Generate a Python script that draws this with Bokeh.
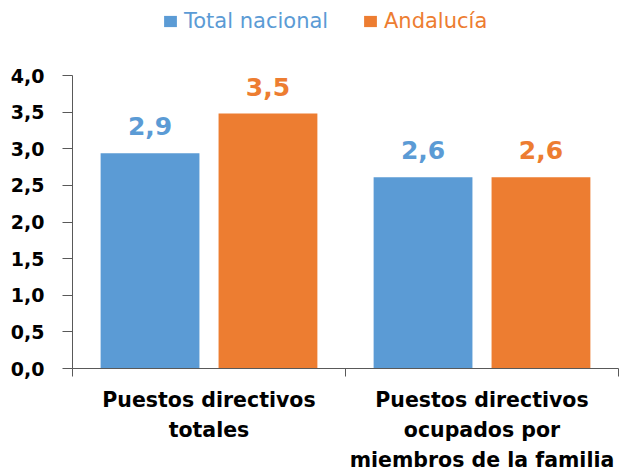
from bokeh.plotting import figure
from bokeh.models import (ColumnDataSource, Range1d, FixedTicker, Legend, LegendItem,
                          LabelSet, CustomJSTickFormatter)
from bokeh.core.properties import value
from bokeh.embed import file_html
from bokeh.resources import INLINE

# ---- data ----
categories = ["Puestos directivos\ntotales",
              "Puestos directivos\nocupados por\nmiembros de la familia"]
series = ["Total nacional", "Andalucía"]
total_nacional = [2.94, 2.61]
andalucia = [3.48, 2.61]
y_ticks = [0.0, 0.5, 1.0, 1.5, 2.0, 2.5, 3.0, 3.5, 4.0]

BLUE = "#5B9BD5"
ORANGE = "#ED7D31"
FONT = "DejaVu Sans"
OFF = 0.216
BW = 0.362

# layout: frame spans full top so the legend above the axis is not clipped
H, BOTTOM, AXIS_TOP_PX = 475, 107, 75
FRAME_H = H - BOTTOM
Y_MAX = y_ticks[-1]
y_end = Y_MAX * FRAME_H / (FRAME_H - AXIS_TOP_PX)

centers = [i + 0.5 for i in range(len(categories))]

def fmt(v):
    return f"{v:.1f}".replace(".", ",")

src_a = ColumnDataSource(dict(x=[c - OFF for c in centers], top=total_nacional,
                              label=[fmt(v) for v in total_nacional]))
src_b = ColumnDataSource(dict(x=[c + OFF for c in centers], top=andalucia,
                              label=[fmt(v) for v in andalucia]))

p = figure(width=620, height=H, output_backend="svg", toolbar_location=None,
           x_range=Range1d(0, len(categories)), y_range=Range1d(0, y_end),
           min_border_left=72, min_border_right=2, min_border_top=0, min_border_bottom=BOTTOM)
p.outline_line_color = None
p.xgrid.visible = False
p.ygrid.visible = False
p.background_fill_color = "white"

ra = p.vbar(x="x", top="top", width=BW, source=src_a, fill_color=BLUE, line_color=None)
rb = p.vbar(x="x", top="top", width=BW, source=src_b, fill_color=ORANGE, line_color=None)

for src, col in ((src_a, BLUE), (src_b, ORANGE)):
    p.add_layout(LabelSet(x="x", y="top", text="label", source=src, y_offset=27,
                          text_align="center", text_baseline="middle",
                          text_font=value(FONT), text_font_style="bold",
                          text_font_size="25px", text_color=col))

AX = "#595959"
# y axis
ya = p.yaxis[0]
ya.bounds = (0, Y_MAX)
ya.ticker = FixedTicker(ticks=y_ticks)
ya.formatter = CustomJSTickFormatter(code="return tick.toFixed(1).replace('.', ',')")
ya.axis_line_color = AX
ya.major_tick_line_color = AX
ya.major_tick_out = 10
ya.major_tick_in = 0
ya.minor_tick_line_color = None
ya.major_label_text_font = FONT
ya.major_label_text_font_style = "bold"
ya.major_label_text_font_size = "19px"
ya.major_label_text_color = "black"
ya.major_label_standoff = 18

# x axis
xa = p.xaxis[0]
xa.ticker = FixedTicker(ticks=centers, minor_ticks=list(range(len(categories) + 1)))
xa.formatter = CustomJSTickFormatter(args=dict(labels=categories),
                                     code="return labels[Math.floor(tick)]")
xa.axis_line_color = AX
xa.major_tick_line_color = None
xa.major_tick_out = 0
xa.major_tick_in = 0
xa.minor_tick_line_color = AX
xa.minor_tick_out = 8
xa.minor_tick_in = 0
xa.major_label_text_font = FONT
xa.major_label_text_font_style = "bold"
xa.major_label_text_font_size = "20.5px"
xa.major_label_text_color = "black"
xa.major_label_text_line_height = 1.27
xa.major_label_standoff = 11

# legends (one per series so label colours match)
for r, name, col, lx in ((ra, series[0], BLUE, 90), (rb, series[1], ORANGE, 290)):
    lg = Legend(items=[LegendItem(label=name, renderers=[r])], location=(lx, FRAME_H - 33),
                orientation="horizontal", glyph_width=16, glyph_height=14,
                label_standoff=6, padding=0, margin=0, border_line_color=None,
                background_fill_alpha=0, label_text_font=FONT,
                label_text_font_size="21px", label_text_color=col)
    p.add_layout(lg, "center")

open("out.html", "w").write(file_html(p, INLINE))
